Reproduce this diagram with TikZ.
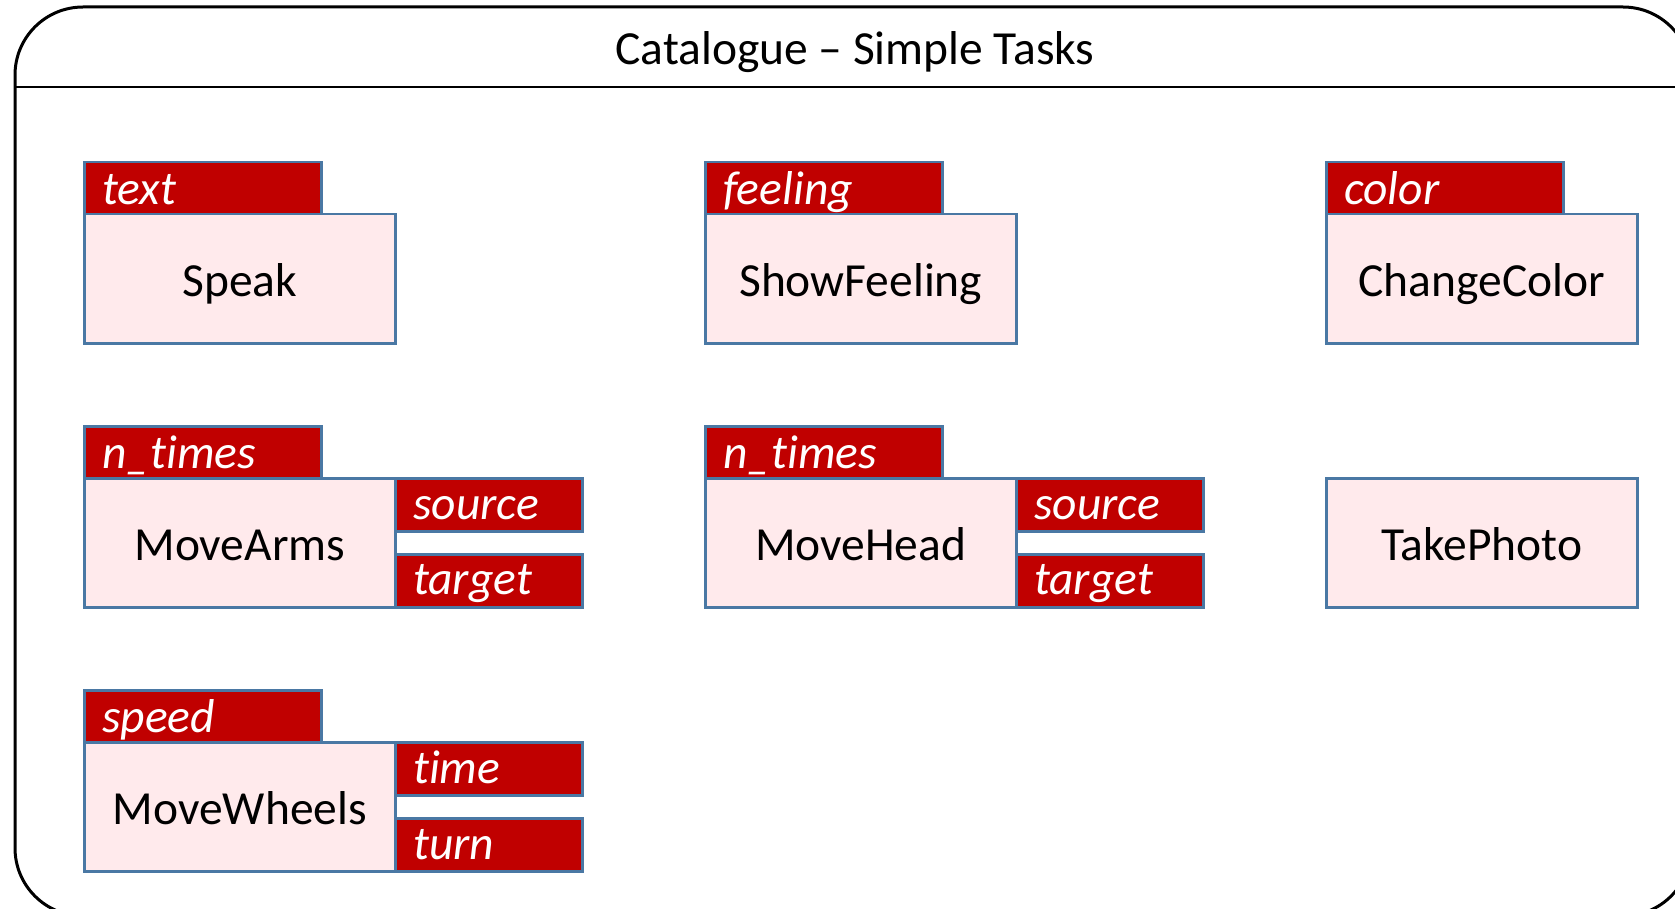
\documentclass[tikz,border=0pt]{standalone}
\usepackage{fontspec}
\setmainfont{Carlito}[Ligatures=NoCommon]
\usetikzlibrary{calc}
\definecolor{tabred}{HTML}{C00000}
\definecolor{boxpink}{HTML}{FFEAEC}
\definecolor{edgeblue}{HTML}{4A78A4}
\tikzset{
  tabbox/.style={draw=edgeblue, fill=tabred, line width=2.5pt, inner sep=0pt, anchor=north west, minimum width=237pt, minimum height=52pt},
  sidetab/.style={draw=edgeblue, fill=tabred, line width=2.5pt, inner sep=0pt, anchor=north west, minimum width=187pt, minimum height=53pt},
  taskbox/.style={draw=edgeblue, fill=boxpink, line width=2.5pt, inner sep=0pt, anchor=north west, minimum width=311pt, minimum height=129pt},
  tablabel/.style={text=white, inner sep=0pt, anchor=base west, font=\fontsize{47.5}{50}\selectfont\itshape},
  tasklabel/.style={text=black, inner sep=0pt, anchor=base, font=\fontsize{47.5}{52}\selectfont},
  frameline/.style={draw=black, line width=3pt},
  headline/.style={draw=black, line width=2pt}
}
\begin{document}
\begin{tikzpicture}[x=1pt,y=1pt]
\useasboundingbox (0,0) rectangle (1675,-909);
\clip (0,0) rectangle (1675,-909);
\fill[white] (0,0) rectangle (1675,-909);
% frame
\draw[frameline, rounded corners=68pt] (15,-7) rectangle (1691,-916);
\coordinate (hl) at (15,-87);
\coordinate (hr) at (1691,-87);
\draw[headline] (hl) -- (hr);
\node[tasklabel] (title) at (855,-65) {Catalogue – Simple Tasks};

% Row 1
\node[tabbox] (speaktab) at (83,-161) {};
\node[taskbox] (speak) at (83,-213) {};
\node[tablabel] (speaktabl) at ([shift={(19pt,11pt)}]speaktab.south west) {text};
\node[tasklabel] (speakl) at ([yshift=-18pt]speak.center) {Speak};

\node[tabbox] (feeltab) at (704,-161) {};
\node[taskbox] (feel) at (704,-213) {};
\node[tablabel] (feeltabl) at ([shift={(19pt,11pt)}]feeltab.south west) {feeling};
\node[tasklabel] (feell) at ([yshift=-18pt]feel.center) {ShowFeeling};

\node[tabbox] (colortab) at (1325,-161) {};
\node[taskbox] (color) at (1325,-213) {};
\node[tablabel] (colortabl) at ([shift={(19pt,11pt)}]colortab.south west) {color};
\node[tasklabel] (colorl) at ([yshift=-18pt]color.center) {ChangeColor};

% Row 2
\node[tabbox] (armstab) at (83,-425) {};
\node[taskbox] (arms) at (83,-477) {};
\node[sidetab] (armssrc) at (394,-477) {};
\node[sidetab] (armstgt) at (394,-553) {};
\node[tablabel] (armstabl) at ([shift={(19pt,11pt)}]armstab.south west) {n\_times};
\node[tablabel] (armssrcl) at ([shift={(19pt,13pt)}]armssrc.south west) {source};
\node[tablabel] (armstgtl) at ([shift={(19pt,14pt)}]armstgt.south west) {target};
\node[tasklabel] (armsl) at ([yshift=-18pt]arms.center) {MoveArms};

\node[tabbox] (headtab) at (704,-425) {};
\node[taskbox] (head) at (704,-477) {};
\node[sidetab] (headsrc) at (1015,-477) {};
\node[sidetab] (headtgt) at (1015,-553) {};
\node[tablabel] (headtabl) at ([shift={(19pt,11pt)}]headtab.south west) {n\_times};
\node[tablabel] (headsrcl) at ([shift={(19pt,13pt)}]headsrc.south west) {source};
\node[tablabel] (headtgtl) at ([shift={(19pt,14pt)}]headtgt.south west) {target};
\node[tasklabel] (headl) at ([yshift=-18pt]head.center) {MoveHead};

\node[taskbox] (photo) at (1325,-477) {};
\node[tasklabel] (photol) at ([yshift=-18pt]photo.center) {TakePhoto};

% Row 3
\node[tabbox] (wheelstab) at (83,-689) {};
\node[taskbox] (wheels) at (83,-741) {};
\node[sidetab] (wheelstime) at (394,-741) {};
\node[sidetab] (wheelsturn) at (394,-817) {};
\node[tablabel] (wheelstabl) at ([shift={(19pt,11pt)}]wheelstab.south west) {speed};
\node[tablabel] (wheelstimel) at ([shift={(19pt,13pt)}]wheelstime.south west) {time};
\node[tablabel] (wheelsturnl) at ([shift={(19pt,13pt)}]wheelsturn.south west) {turn};
\node[tasklabel] (wheelsl) at ([yshift=-18pt]wheels.center) {MoveWheels};
\end{tikzpicture}
\end{document}
